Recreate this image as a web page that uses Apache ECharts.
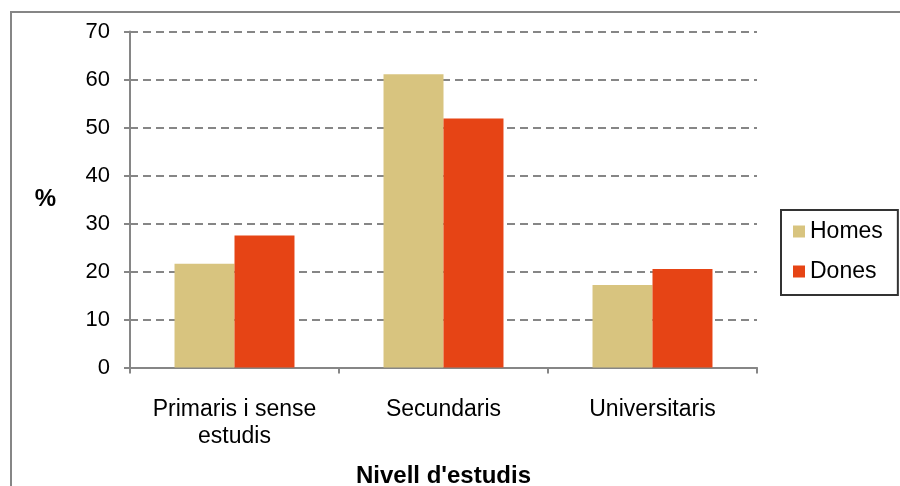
<!DOCTYPE html>
<html>
<head>
<meta charset="utf-8">
<script src="https://cdn.jsdelivr.net/npm/echarts@6/dist/echarts.min.js"></script>
<style>
  html, body { margin: 0; padding: 0; background: #fff; }
  #main { width: 900px; height: 486px; }
</style>
</head>
<body>
<div id="main"></div>
<script>
var categories = ['Primaris i sense\nestudis', 'Secundaris', 'Universitaris'];
var homes = [21.6, 61.1, 17.2];
var dones = [27.5, 51.9, 20.5];
var yTicks = [0, 10, 20, 30, 40, 50, 60, 70];

var font = 'Liberation Sans, Arial, sans-serif';
var axisGray = '#868686';

var myChart = echarts.init(document.getElementById('main'));
myChart.setOption(option = {
    animation: false,
    textStyle: { fontFamily: font },
    graphic: [{
        type: 'rect',
        shape: { x: 11, y: 12, width: 1000, height: 1000 },
        style: { fill: 'none', stroke: axisGray, lineWidth: 2 },
        silent: true
    }],
    grid: {
        left: 130,
        right: 143,
        top: 31.5,
        bottom: 118.5,
        containLabel: false,
        outerBoundsMode: 'none'
    },
    legend: {
        orient: 'vertical',
        left: 781,
        top: 210,
        itemWidth: 12,
        itemHeight: 12,
        itemGap: 17,
        padding: [10, 15, 12, 12],
        borderColor: '#333',
        borderWidth: 2,
        icon: 'rect',
        textStyle: { fontSize: 23, color: '#000', fontFamily: font },
        data: ['Homes', 'Dones']
    },
    xAxis: {
        type: 'category',
        data: categories,
        name: "Nivell d'estudis",
        nameLocation: 'middle',
        nameGap: 97,
        nameTextStyle: { fontSize: 24, fontWeight: 'bold', color: '#000', fontFamily: font },
        axisLine: { lineStyle: { color: axisGray, width: 2 } },
        axisTick: { show: true, interval: 0, length: 6, lineStyle: { color: axisGray, width: 2 } },
        axisLabel: { interval: 0, hideOverlap: false, fontSize: 23, color: '#000', margin: 29, lineHeight: 27, fontFamily: font }
    },
    yAxis: {
        type: 'value',
        min: yTicks[0],
        max: yTicks[yTicks.length - 1],
        interval: 10,
        name: '%',
        nameLocation: 'middle',
        nameRotate: 0,
        nameGap: 74,
        nameTextStyle: { fontSize: 24, fontWeight: 'bold', color: '#000', fontFamily: font },
        axisLine: { show: true, lineStyle: { color: axisGray, width: 2 } },
        axisTick: { show: true, length: 6, lineStyle: { color: axisGray, width: 2 } },
        axisLabel: { fontSize: 22, color: '#000', margin: 20, fontFamily: font },
        splitLine: { lineStyle: { color: axisGray, width: 2, type: [8, 5] } }
    },
    series: [{
        name: 'Homes',
        type: 'bar',
        data: homes,
        barGap: '0%',
        barCategoryGap: '42.6%',
        itemStyle: { color: '#D8C47F' }
    }, {
        name: 'Dones',
        type: 'bar',
        data: dones,
        itemStyle: { color: '#E64415' }
    }]
});
</script>
</body>
</html>
